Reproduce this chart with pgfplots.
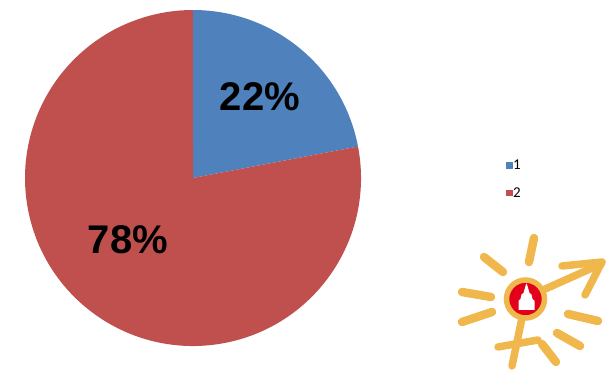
\documentclass[border=0pt]{standalone}
\usepackage{fontspec}
\setmainfont{Liberation Sans}
\newfontfamily\carlito{Carlito}
\usepackage{pgfplots}
\usepackage{pgfplotstable}
\pgfplotsset{compat=1.18}

\definecolor{sliceblue}{HTML}{4F81BD}
\definecolor{slicered}{HTML}{C0504D}
\definecolor{sunyellow}{HTML}{F0B84C}
\definecolor{domred}{HTML}{E2001A}

% share of each group (percent)
\pgfplotstableread{
label value
1 22
2 78
}\shares

\begin{document}
\begin{tikzpicture}
\pgfplotstablegetelem{0}{value}\of\shares \edef\va{\pgfplotsretval}
\pgfplotstablegetelem{1}{value}\of\shares \edef\vb{\pgfplotsretval}
\pgfmathsetmacro\total{\va+\vb}
\pgfmathsetmacro\aA{90}
\pgfmathsetmacro\aB{90-\va/\total*360}
\pgfmathsetmacro\aC{\aB-\vb/\total*360}
\path (0,0) rectangle (612bp,370bp);
\begin{axis}[
  at={(0,0)}, anchor=south west,
  width=612bp, height=370bp, scale only axis,
  xmin=0, xmax=612, ymin=0, ymax=370, y dir=reverse,
  hide axis, clip=false,
  legend style={at={(axis cs:506,158.5)}, anchor=north west, draw=none, fill=none,
    inner sep=0pt, row sep=14.5bp,
    font=\carlito\fontsize{15bp}{17bp}\selectfont,
    nodes={inner sep=1pt}},
  legend cell align=left,
]
\addlegendimage{legend image code/.code={\fill[sliceblue] (0.5bp,-2.7bp) rectangle (5.9bp,2.7bp);}}
\addlegendentry{1}
\addlegendimage{legend image code/.code={\fill[slicered] (0.5bp,-2.7bp) rectangle (5.9bp,2.7bp);}}
\addlegendentry{2}

% pie slices, clockwise from the top
\fill[sliceblue] (axis cs:193,178) -- ++(\aA:168bp) arc[start angle=\aA, end angle=\aB, radius=168bp] -- cycle;
\fill[slicered] (axis cs:193,178) -- ++(\aB:168bp) arc[start angle=\aB, end angle=\aC, radius=168bp] -- cycle;

% value labels
\node[font=\fontsize{40bp}{48bp}\selectfont\bfseries] at (axis cs:260,97) {\va\%};
\node[font=\fontsize{40bp}{48bp}\selectfont\bfseries] at (axis cs:128,240) {\vb\%};
\end{axis}

% emblem: sun with gender symbols (coordinates measured from the top left corner)
\begin{scope}[x=1bp, y=-1bp, yshift=370bp]
  \begin{scope}[draw=sunyellow, line width=8.5bp, line cap=round, line join=round]
    \draw (534,238) -- (529,262);
    \draw (484,257) -- (503,272);
    \draw (462,292) -- (491,297);
    \draw (462,322) -- (492,312);
    \draw (568,314) -- (598,321);
    \draw (557,333) -- (580,346);
    \draw (542,344) -- (556,362);
  \end{scope}
  \begin{scope}[draw=sunyellow, line width=7.5bp, line cap=round, line join=round]
    \draw (543,290) -- (601,264);
    \draw (562,266) -- (602,262) -- (585,295);
    \draw (522,318) -- (512,366);
    \draw (498,347) -- (538,340);
  \end{scope}
  \fill[domred] (525.5,299) circle[radius=17];
  \draw[sunyellow, line width=5.5bp] (525.5,299) circle[radius=19];
  \fill[white] (518.5,310) -- (518.5,301) -- (520.5,299) -- (521.5,294.5)
    -- (523.5,293) -- (525.5,286) -- (526.5,283.5) -- (527.5,286)
    -- (529.5,293) -- (531.5,294.5) -- (532.5,299) -- (534.5,301)
    -- (534.5,310) -- cycle;
\end{scope}
\end{tikzpicture}
\end{document}
